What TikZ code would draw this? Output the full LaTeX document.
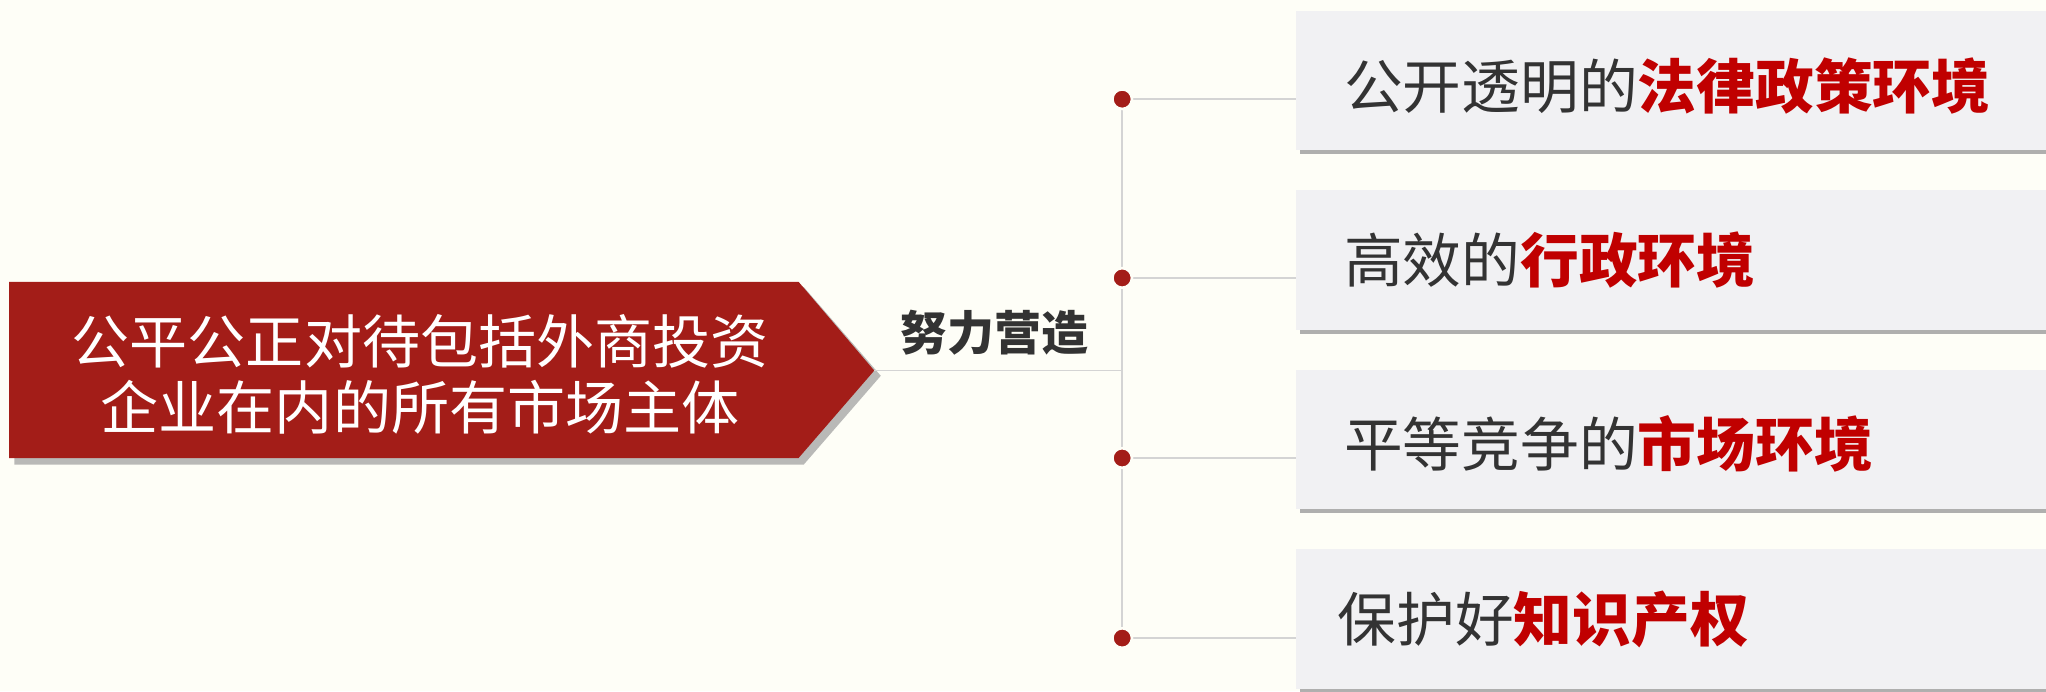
\documentclass[tikz,border=0pt]{standalone}
\usepackage{fontspec}
\newfontfamily\cjk{Noto Sans CJK SC}
\usetikzlibrary{shadows}
\definecolor{bgc}{HTML}{FEFEF7}
\definecolor{redc}{HTML}{A31D18}
\definecolor{hlc}{HTML}{C00000}
\definecolor{txc}{HTML}{333333}
\definecolor{boxc}{HTML}{F1F1F3}
\definecolor{linec}{HTML}{D4D4D4}
\definecolor{shc}{HTML}{9C9C9C}
\tikzset{
  conn/.style={draw=linec, line width=1.3pt},
  dot/.style={circle, fill=redc, draw=bgc, line width=2pt, minimum size=15pt, inner sep=0pt},
  rbox/.style={fill=boxc, minimum width=575pt, minimum height=107pt, inner sep=0pt, anchor=north west,
    drop shadow={shadow xshift=3pt, shadow yshift=-3pt, fill=shc, opacity=.8}},
  rtext/.style={anchor=west, inner sep=0pt, text=txc, font=\cjk\fontsize{45}{54}\selectfont},
}
\newcommand{\hlt}[1]{\textcolor{hlc}{\bfseries #1}}
\begin{document}
\begin{tikzpicture}[x=1pt,y=-1pt]
\useasboundingbox (0,0) rectangle (1568,529.6);
\fill[bgc] (0,0) rectangle (1568,529.6);
% left pentagon
\coordinate (tip) at (670,284);
\fill[shc, opacity=.7] (11,220) -- (616,220) -- (675,288) -- (616,356) -- (11,356) -- cycle;
\fill[redc] (7,216) -- (612,216) -- (tip) -- (612,351) -- (7,351) -- cycle;
\node[align=center, text=white, inner sep=0pt, font=\cjk\fontsize{44.5}{51}\selectfont] (main) at (322,287)
  {公平公正对待包括外商投资\\企业在内的所有市场主体};
% boxes
\node[rbox] (b1) at (993,8) {};
\node[rbox] (b2) at (993,145.5) {};
\node[rbox] (b3) at (993,283) {};
\node[rbox] (b4) at (993,420.5) {};
\node[rtext] (t1) at (1030,66) {公开透明的\hlt{法律政策环境}};
\node[rtext] (t2) at (1030,199) {高效的\hlt{行政环境}};
\node[rtext] (t3) at (1030,340) {平等竞争的\hlt{市场环境}};
\node[rtext] (t4) at (1025,475) {保护好\hlt{知识产权}};
% connectors
\coordinate (c1) at (860,76);
\coordinate (c2) at (860,213);
\coordinate (c3) at (860,351);
\coordinate (c4) at (860,489);
\draw[conn] (tip) -- (tip -| c1);
\draw[conn] (c1) -- (c4);
\draw[conn] (c1) -- (c1 -| b1.west);
\draw[conn] (c2) -- (c2 -| b2.west);
\draw[conn] (c3) -- (c3 -| b3.west);
\draw[conn] (c4) -- (c4 -| b4.west);
\node[dot] (d1) at (c1) {};
\node[dot] (d2) at (c2) {};
\node[dot] (d3) at (c3) {};
\node[dot] (d4) at (c4) {};
\node[text=txc, inner sep=0pt, font=\cjk\bfseries\fontsize{36}{40}\selectfont] (lab) at (762,255) {努力营造};
\end{tikzpicture}
\end{document}
